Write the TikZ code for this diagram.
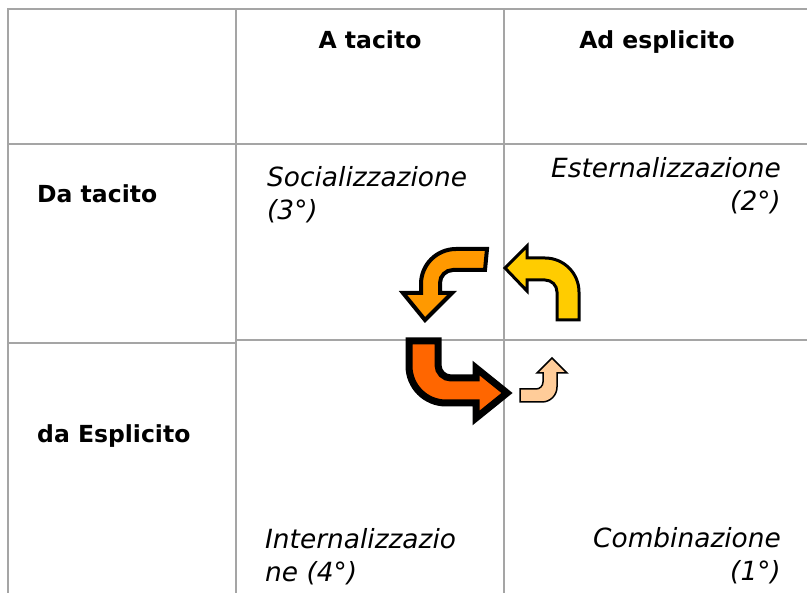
\documentclass[tikz,border=0pt]{standalone}
\usepackage{fontspec}
\setmainfont{DejaVu Sans}

\definecolor{tablegray}{RGB}{165,165,165}
\definecolor{socialcolor}{RGB}{255,153,0}
\definecolor{esterncolor}{RGB}{255,204,0}
\definecolor{interncolor}{RGB}{255,102,0}
\definecolor{combincolor}{RGB}{255,204,153}

\tikzset{
  tableline/.style={draw=tablegray, line width=1.6pt},
  header/.style={font=\bfseries\fontsize{23.5}{28}\selectfont, inner sep=0pt},
  phase/.style={font=\itshape\fontsize{26.4}{33}\selectfont, inner sep=0pt},
  bentarrow/.style={draw=black, line join=miter}
}

\begin{document}
\begin{tikzpicture}[x=1pt,y=-1pt]
  \useasboundingbox (0,0) rectangle (807,593);

  % Draw table lines
  \draw[tableline] (807,9) -- (8,9) -- (8,593);
  \draw[tableline] (236,9) -- (236,593);
  \draw[tableline] (504,9) -- (504,593);
  \draw[tableline] (8,144) -- (807,144);
  \draw[tableline] (8,343) -- (236,343);
  \draw[tableline] (236,340) -- (807,340);

  % Column and row headers
  \node[header, anchor=base] (atacito) at (370,49) {A tacito};
  \node[header, anchor=base] (adesplicito) at (657,49) {Ad esplicito};
  \node[header, anchor=base west] (datacito) at (37,203) {Da tacito};
  \node[header, anchor=base west] (daesplicito) at (37,443) {da Esplicito};

  % Phases in the cells (base = last line)
  \node[phase, anchor=base west, align=left] (social) at (267,220) {Socializzazione\\(3°)};
  \node[phase, anchor=base east, align=right] (estern) at (781,211) {Esternalizzazione\\(2°)};
  \node[phase, anchor=base west, align=left] (intern) at (265,582) {Internalizzazio\\ne (4°)};
  \node[phase, anchor=base east, align=right] (combin) at (781,581) {Combinazione\\(1°)};

  % Bent arrows of the cycle
  \draw[bentarrow, line width=4pt, fill=socialcolor]
    (487,249) -- (456,249) arc[start angle=270, end angle=180, radius=35]
    -- (421,293) -- (403,293) -- (425,320) -- (452,293) -- (440,293)
    -- (440,283) arc[start angle=180, end angle=270, radius=13]
    -- (485,270) -- cycle;
  \draw[bentarrow, line width=3pt, fill=esterncolor]
    (579,320) -- (579,292) arc[start angle=0, end angle=-90, radius=34]
    -- (527,258) -- (527,246) -- (505,268) -- (527,291) -- (527,280)
    -- (545,280) arc[start angle=-90, end angle=0, radius=12]
    -- (557,320) -- cycle;
  \draw[bentarrow, line width=7pt, fill=interncolor]
    (409,341) -- (409,366) arc[start angle=180, end angle=90, radius=37]
    -- (476,403) -- (476,418) -- (507,393) -- (476,368) -- (476,378)
    -- (451,378) arc[start angle=90, end angle=180, radius=13]
    -- (438,341) -- cycle;
  \draw[bentarrow, line width=1.5pt, fill=combincolor]
    (520,389) -- (536,389) arc[start angle=90, end angle=0, radius=7]
    -- (543,373) -- (537,373) -- (552,358) -- (567,373) -- (557,373)
    -- (557,387) arc[start angle=0, end angle=90, radius=15]
    -- (520,402) -- cycle;

\end{tikzpicture}
\end{document}
